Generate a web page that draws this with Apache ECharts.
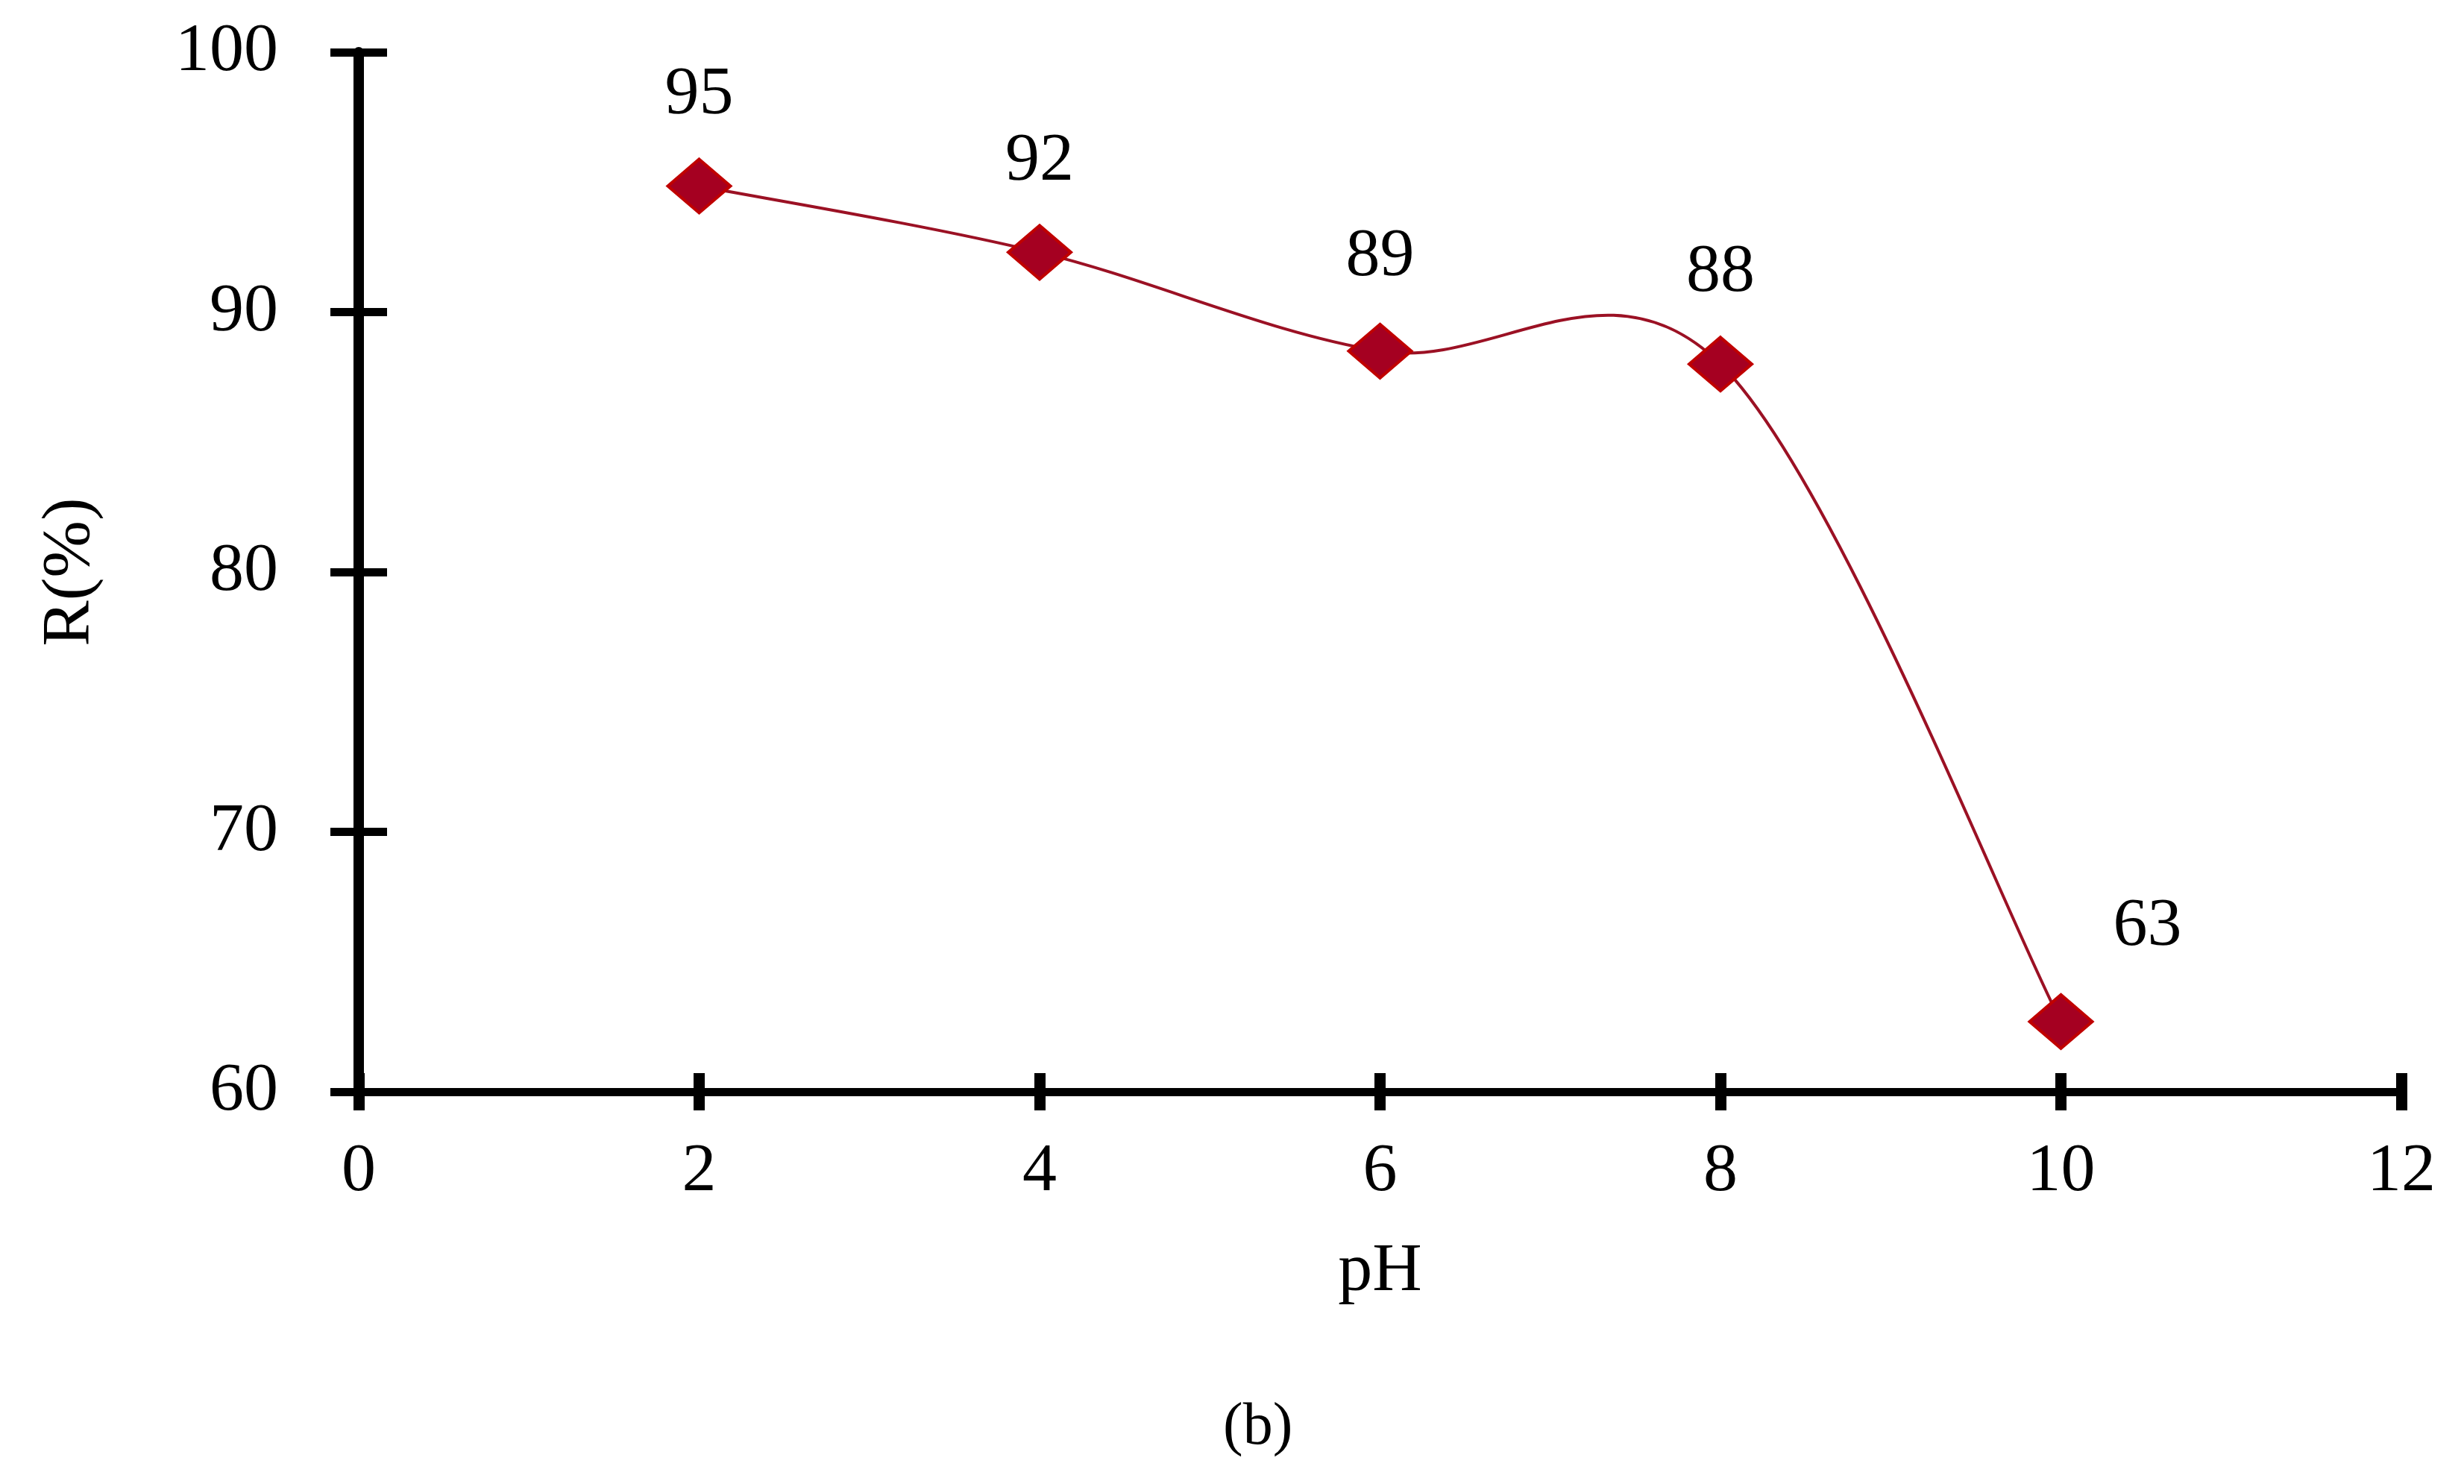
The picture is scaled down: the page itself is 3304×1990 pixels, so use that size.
<!DOCTYPE html>
<html>
<head>
<meta charset="utf-8">
<script src="https://cdn.jsdelivr.net/npm/echarts@6/dist/echarts.min.js"></script>
<style>
  html, body { margin: 0; padding: 0; background: #fff; }
  #chart { width: 3304px; height: 1990px; }
</style>
</head>
<body>
<div id="chart"></div>
<script>
// data
const phValues = [2, 4, 6, 8, 10];
const removal = [94.85, 92.3, 88.5, 88.0, 62.7];
const xTicks = [0, 2, 4, 6, 8, 10, 12];
const yTicks = [60, 70, 80, 90, 100];

const serif = '"Liberation Serif", "DejaVu Serif", serif';
const lineColor = '#9b1124';

// label placement (last point sits to the upper right)
const labelShift = [[0, -122], [0, -122], [0, -126], [0, -122], [116, -127]];

const points = phValues.map((x, i) => ({
  value: [x, removal[i]],
  label: { offset: labelShift[i] }
}));

// spreadsheet style smoothed line: cubic bezier segments, tangents from neighbours
const renderSmoothLine = (params, api) => {
  const p = phValues.map((x, i) => api.coord([x, removal[i]]));
  const n = p.length;
  const children = [];
  for (let i = 0; i < n - 1; i++) {
    const a = p[Math.max(i - 1, 0)];
    const b = p[i];
    const c = p[i + 1];
    const d = p[Math.min(i + 2, n - 1)];
    children.push({
      type: 'bezierCurve',
      shape: {
        x1: b[0], y1: b[1],
        cpx1: b[0] + (c[0] - a[0]) / 6, cpy1: b[1] + (c[1] - a[1]) / 6,
        cpx2: c[0] - (d[0] - b[0]) / 6, cpy2: c[1] - (d[1] - b[1]) / 6,
        x2: c[0], y2: c[1]
      },
      style: { stroke: lineColor, lineWidth: 4, fill: null }
    });
  }
  return { type: 'group', children };
};

const chart = echarts.init(document.getElementById('chart'));

const option = {
  animation: false,
  backgroundColor: '#fff',
  grid: { left: 481, right: 84, top: 70, bottom: 526 },
  xAxis: [
    {
      type: 'value',
      min: xTicks[0],
      max: xTicks[xTicks.length - 1],
      interval: 2,
      name: 'pH',
      nameLocation: 'middle',
      nameGap: 196,
      nameTextStyle: { fontFamily: serif, fontSize: 92, color: '#000' },
      axisLine: { onZero: false, lineStyle: { color: '#000', width: 11 } },
      axisTick: { show: true, inside: false, length: 25, lineStyle: { color: '#000', width: 15 } },
      axisLabel: { margin: 62, fontFamily: serif, fontSize: 92, color: '#000' },
      splitLine: { show: false }
    },
    {
      type: 'value',
      position: 'bottom',
      min: xTicks[0],
      max: xTicks[xTicks.length - 1],
      interval: 2,
      axisLine: { show: false },
      axisTick: { show: true, inside: true, length: 25, lineStyle: { color: '#000', width: 15 } },
      axisLabel: { show: false },
      splitLine: { show: false }
    }
  ],
  yAxis: [
    {
      type: 'value',
      min: yTicks[0],
      max: yTicks[yTicks.length - 1],
      interval: 10,
      name: 'R(%)',
      nameLocation: 'middle',
      nameGap: 340,
      nameTextStyle: { fontFamily: serif, fontSize: 92, color: '#000' },
      axisLine: { onZero: false, lineStyle: { color: '#000', width: 14 } },
      axisTick: { show: true, inside: false, length: 38, lineStyle: { color: '#000', width: 11 } },
      axisLabel: { margin: 108, fontFamily: serif, fontSize: 92, color: '#000' },
      splitLine: { show: false }
    },
    {
      type: 'value',
      position: 'left',
      min: yTicks[0],
      max: yTicks[yTicks.length - 1],
      interval: 10,
      axisLine: { show: false },
      axisTick: { show: true, inside: true, length: 38, lineStyle: { color: '#000', width: 11 } },
      axisLabel: { show: false },
      splitLine: { show: false }
    }
  ],
  series: [
    {
      type: 'custom',
      z: 1,
      clip: false,
      silent: true,
      data: [[phValues[0], removal[0]]],
      renderItem: renderSmoothLine
    },
    {
      type: 'line',
      z: 2,
      data: points,
      symbol: 'diamond',
      symbolSize: [84, 72],
      lineStyle: { width: 0, opacity: 0 },
      itemStyle: { color: '#a50021', borderColor: '#c00000', borderWidth: 4 },
      label: {
        show: true,
        position: 'inside',
        fontFamily: serif,
        fontSize: 92,
        color: '#000',
        formatter: p => Math.round(p.value[1])
      }
    }
  ],
  graphic: [
    {
      type: 'text',
      left: 1640,
      top: 1875,
      style: { text: '(b)', font: '80px ' + serif, fill: '#000' }
    }
  ]
};

chart.setOption(option);
window.addEventListener('resize', () => chart.resize());
</script>
</body>
</html>
